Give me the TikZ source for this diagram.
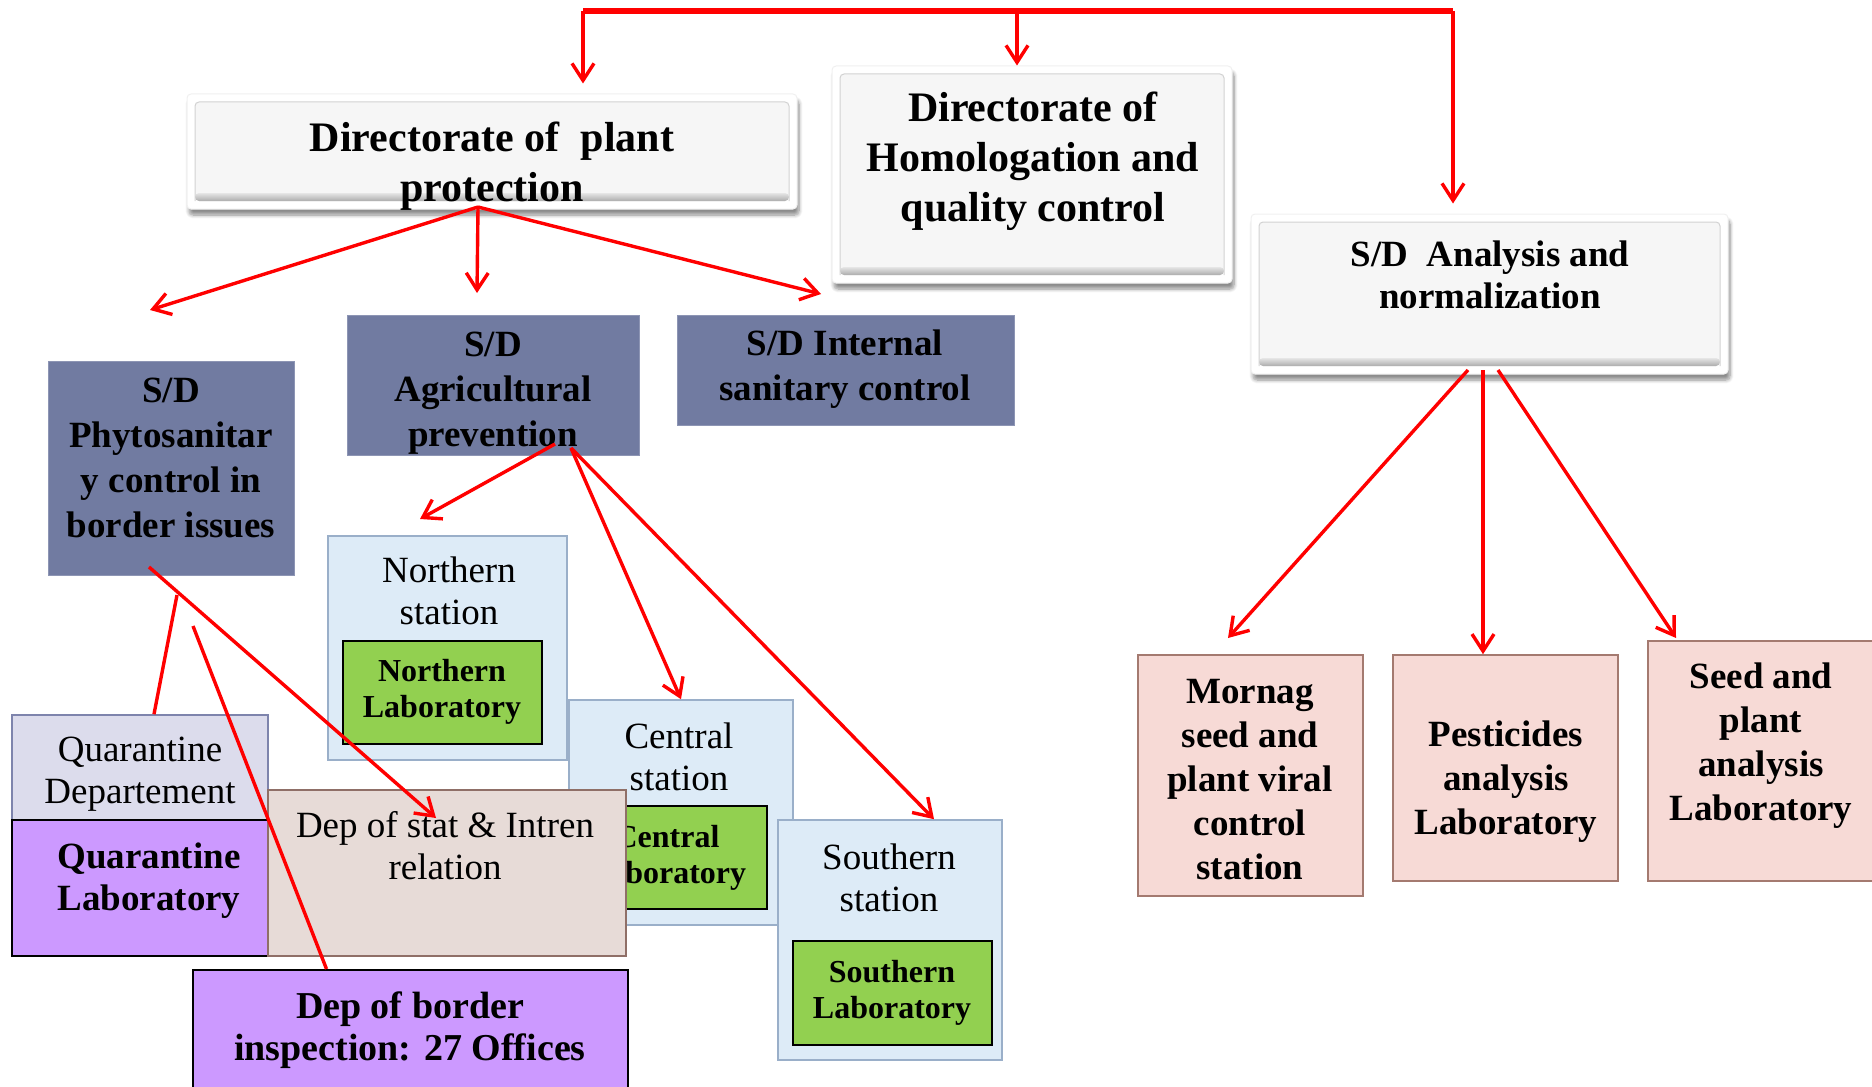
\documentclass[tikz,border=0pt]{standalone}
\usepackage{fontspec}
\setmainfont{Liberation Serif}
\usetikzlibrary{arrows.meta,shadows.blur}

\definecolor{slate}{HTML}{717BA1}
\definecolor{stfill}{HTML}{DDEBF7}
\definecolor{stline}{HTML}{9AAFC9}
\definecolor{labgreen}{HTML}{92D050}
\definecolor{qgray}{HTML}{DCDCEC}
\definecolor{qline}{HTML}{7E84AC}
\definecolor{lilac}{HTML}{CC99FF}
\definecolor{statfill}{HTML}{E7DBD7}
\definecolor{statline}{HTML}{8F6F67}
\definecolor{pinkfill}{HTML}{F7DAD6}
\definecolor{pinkline}{HTML}{A47A70}

\tikzset{
  bevelbox/.style={draw=gray!12, line width=0.5pt, fill=white, inner sep=0pt, rounded corners=2pt,
    blur shadow={shadow xshift=1pt, shadow yshift=-3pt, shadow blur steps=8, shadow blur extra rounding=2pt, shadow opacity=45},
    path picture={
      \fill[gray!7] ([shift={(4pt,4pt)}]path picture bounding box.south west) rectangle ([shift={(-4pt,-4pt)}]path picture bounding box.north east);
      \shade[top color=gray!20, bottom color=gray!65] ([shift={(4pt,4pt)}]path picture bounding box.south west) rectangle ([shift={(-4pt,8pt)}]path picture bounding box.south east);
      \draw[gray!35] ([shift={(4pt,4pt)}]path picture bounding box.south west) -- ([shift={(4pt,-4pt)}]path picture bounding box.north west) -- ([shift={(-4pt,-4pt)}]path picture bounding box.north east) -- ([shift={(-4pt,4pt)}]path picture bounding box.south east);
    }},
  sdbox/.style={fill=slate, draw=slate!80!white, inner sep=0pt},
  stationbox/.style={fill=stfill, draw=stline, line width=0.8pt, inner sep=0pt},
  labbox/.style={fill=labgreen, draw=black, line width=1pt, inner sep=0pt},
  depbox/.style={fill=lilac, draw=black, line width=1pt, inner sep=0pt},
  pinkbox/.style={fill=pinkfill, draw=pinkline, line width=0.8pt, inner sep=0pt},
  dirtext/.style={align=center, font=\bfseries\fontsize{21}{25}\selectfont},
  sdtext/.style={align=center, font=\bfseries\fontsize{18.5}{22.5}\selectfont},
  sttext/.style={align=center, font=\fontsize{18.5}{21}\selectfont},
  labtext/.style={align=center, font=\bfseries\fontsize{16}{18}\selectfont},
  pinktext/.style={align=center, font=\bfseries\fontsize{18.5}{22}\selectfont},
  link/.style={red, line width=1.7pt, -{Straight Barb[length=8.5pt,width=11pt]}},
  plainlink/.style={red, line width=1.7pt},
  bar/.style={red, line width=2.6pt}
}

\begin{document}
\begin{tikzpicture}[x=0.5pt,y=-0.5pt]
\useasboundingbox (0,0) rectangle (1872,1086);
\clip (0,0) rectangle (1872,1086);

% directorates
\node[bevelbox, minimum width=305pt, minimum height=57.5pt] (pp) at (492,151.5) {};
\node[dirtext] (pp-t) at (492,166) {Directorate of \ plant\\protection};
\node[bevelbox, minimum width=200pt, minimum height=108.5pt] (hq) at (1032,174.5) {};
\node[dirtext] (hq-t) at (1033,161) {Directorate of\\Homologation and\\quality control};
\node[bevelbox, minimum width=238.5pt, minimum height=80pt] (an) at (1489.5,294) {};
\node[sdtext, font=\bfseries\fontsize{18.5}{21}\selectfont] (an-t) at (1490,275) {S/D \ Analysis and\\normalization};

% sub directorates
\node[sdbox, minimum width=123pt, minimum height=107pt] (phyto) at (171,468) {};
\node[sdtext, text=black] (phyto-t) at (171,458) {S/D\\Phytosanitar\\y control in\\border issues};
\node[sdbox, minimum width=146pt, minimum height=70pt] (agri) at (493,385) {};
\node[sdtext] (agri-t) at (493,393) {S/D\\Agricultural\\prevention};
\node[sdbox, minimum width=168.5pt, minimum height=55pt] (inter) at (845.5,370) {};
\node[sdtext] (inter-t) at (845,369) {S/D Internal\\sanitary control};

% stations
\node[stationbox, minimum width=119.5pt, minimum height=112pt] (nst) at (447.5,648) {};
\node[sttext] (nst-t) at (449,591) {Northern\\station};
\node[labbox, minimum width=99.5pt, minimum height=51.5pt] (nlab) at (442.5,692.5) {};
\node[labtext] (nlab-t) at (442,692) {Northern\\Laboratory};
\node[stationbox, minimum width=112pt, minimum height=112.5pt] (cst) at (681,812.5) {};
\node[sttext] (cst-t) at (679,757) {Central\\station};
\node[labbox, minimum width=95pt, minimum height=51.5pt] (clab) at (672,857.5) {};
\node[labtext] (clab-t) at (667,858) {Central\\Laboratory};

% quarantine and border
\node[fill=qgray, draw=qline, line width=0.8pt, inner sep=0pt, minimum width=128pt, minimum height=52.5pt] (qdep) at (140,767.5) {};
\node[sttext] (qdep-t) at (140,774) {Quarantine\\Departement};
\node[depbox, minimum width=128pt, minimum height=68pt] (qlab) at (140,888) {};
\node[sdtext, font=\bfseries\fontsize{18.5}{21}\selectfont] (qlab-t) at (149,881) {Quarantine\\Laboratory};
\node[fill=statfill, draw=statline, line width=0.8pt, inner sep=0pt, minimum width=179pt, minimum height=83pt] (stat) at (447,873) {};
\node[sttext] (stat-t) at (445,846) {Dep of stat \& Intren\\relation};
\node[stationbox, minimum width=112pt, minimum height=120pt] (sst) at (890,940) {};
\node[sttext] (sst-t) at (889,878) {Southern\\station};
\node[labbox, minimum width=99.5pt, minimum height=52pt] (slab) at (892.5,993) {};
\node[labtext] (slab-t) at (892,993) {Southern\\Laboratory};
\node[depbox, minimum width=217.5pt, minimum height=62.5pt] (bord) at (410.5,1032.5) {};
\node[sdtext, font=\bfseries\fontsize{19}{21}\selectfont] (bord-t) at (410,1030) {Dep of border\\inspection: 27 Offices};

% laboratories of analysis
\node[pinkbox, minimum width=112.5pt, minimum height=120.5pt] (morn) at (1250.5,775.5) {};
\node[pinktext] (morn-t) at (1250,780) {Mornag\\seed and\\plant viral\\control\\station};
\node[pinkbox, minimum width=112.5pt, minimum height=113pt] (pest) at (1505.5,768) {};
\node[pinktext] (pest-t) at (1506,782) {Pesticides\\analysis\\Laboratory};
\node[pinkbox, minimum width=116pt, minimum height=120pt] (seed) at (1764,761) {};
\node[pinktext] (seed-t) at (1761,746) {Seed and\\plant\\analysis\\Laboratory};

% top connector
\coordinate (tl) at (583,11);
\coordinate (tm) at (1017,11);
\coordinate (tr) at (1453,11);
\draw[bar] (tl) -- (tr);
\draw[link, shorten >=5pt] (tl) -- (tl |- pp.north);
\draw[link] (tm) -- (tm |- hq.north);
\draw[link, shorten >=5pt] (tr) -- (tr |- an.north);

% plant protection
\coordinate (pp-o) at (478,207);
\coordinate (to-phyto) at (150,310);
\coordinate (to-agri) at (477,293);
\coordinate (to-inter) at (821,294);
\draw[link] (pp-o) -- (to-phyto);
\draw[link] (pp-o) -- (to-agri);
\draw[link] (pp-o) -- (to-inter);

% agricultural prevention
\coordinate (ag-a) at (555,444);
\coordinate (ag-b) at (571,448);
\coordinate (to-nst) at (420,519);
\draw[link] (ag-a) -- (to-nst);
\draw[link] (ag-b) -- (cst.north);
\draw[link] (ag-b) -- ([xshift=22pt]sst.north);

% phytosanitary
\coordinate (ph-a) at (149,567);
\coordinate (ph-b) at (177,595);
\coordinate (ph-c) at (193,626);
\coordinate (to-stat) at (436,818);
\draw[link] (ph-a) -- (to-stat);
\draw[plainlink] (ph-b) -- ([xshift=7pt]qdep.north);
\draw[plainlink] (ph-c) -- ([xshift=-42pt]bord.north);

% analysis and normalization
\coordinate (an-a) at (1468,370);
\coordinate (an-b) at (1483,370);
\coordinate (an-c) at (1498,370);
\coordinate (to-morn) at (1228,638);
\coordinate (to-seed) at (1676,638);
\draw[link] (an-a) -- (to-morn);
\draw[link] (an-b) -- (an-b |- pest.north);
\draw[link] (an-c) -- (to-seed);
\end{tikzpicture}
\end{document}
